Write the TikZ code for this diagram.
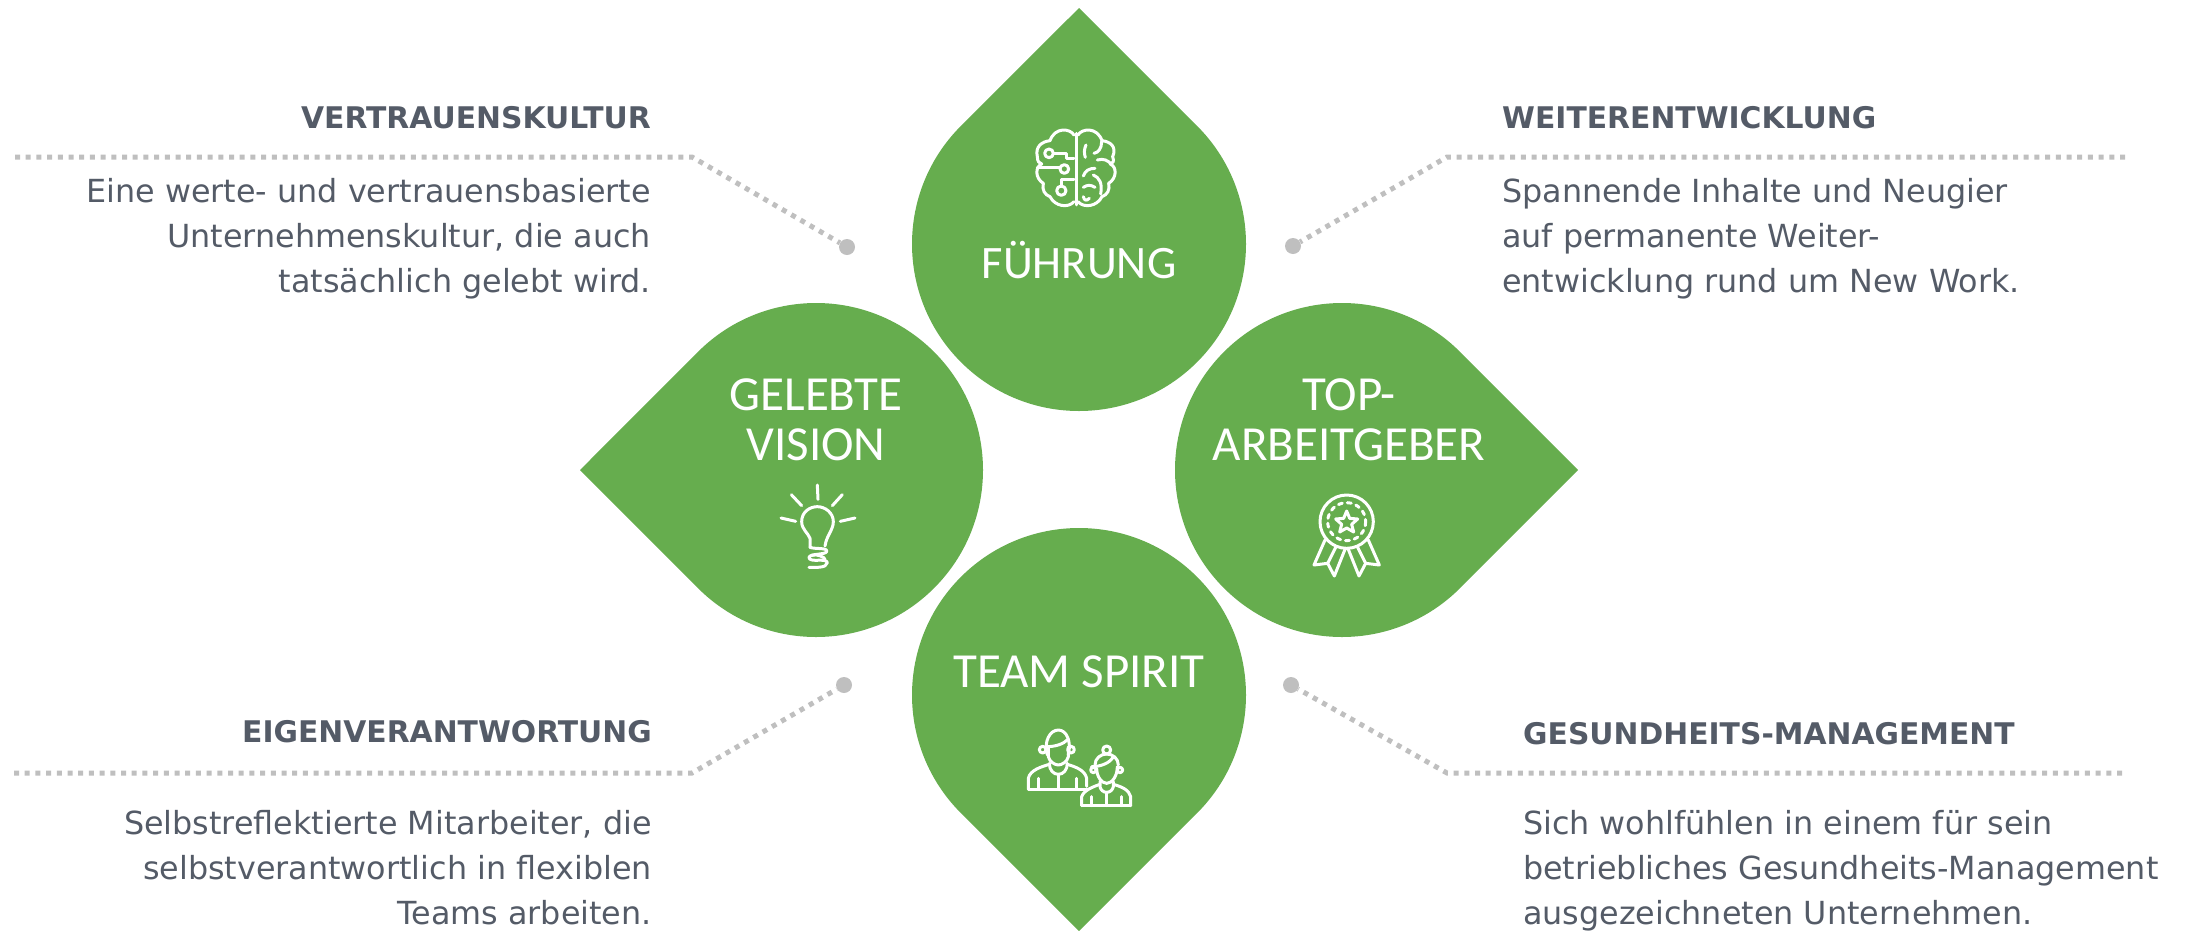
\documentclass[tikz,border=0pt]{standalone}
\usepackage{fontspec}
\setmainfont{DejaVu Sans}
\newfontfamily\shapefont{Carlito}
\definecolor{leaf}{HTML}{66AD4E}
\definecolor{slate}{HTML}{545B67}
\definecolor{dotgrey}{HTML}{BFBFBF}
\newcommand{\dropat}[3]{\fill[leaf,shift={(#1,#2)}] (#3:236) -- ({#3+45}:167) arc[start angle={#3+45},end angle={#3+315},radius=167] -- cycle;}
\tikzset{
  heading/.style={text=slate,font=\fontsize{29.8}{32}\selectfont\bfseries,inner sep=0pt},
  bodyleft/.style={text=slate,font=\fontsize{31.8}{45}\selectfont,inner sep=0pt,align=right,anchor=base east},
  bodyright/.style={text=slate,font=\fontsize{31.8}{45}\selectfont,inner sep=0pt,align=left,anchor=base west},
  shapelabel/.style={text=white,font=\shapefont\fontsize{49}{50}\selectfont,inner sep=0pt,anchor=base},
  leader/.style={dotgrey,line width=5pt,dash pattern=on 5pt off 5.7pt},
  enddot/.style={circle,fill=dotgrey,minimum size=16pt,inner sep=0pt},
  icon/.style={white,line width=3pt,line cap=round,line join=round,x=0.3333pt,y=-0.3333pt},
}
\begin{document}
\begin{tikzpicture}[x=1pt,y=-1pt]
\useasboundingbox (0,0) rectangle (2188,930);
\dropat{1079}{244}{-90}
\dropat{816}{470}{180}
\dropat{1342}{470}{0}
\dropat{1079}{695}{90}

\node[shapelabel,font=\shapefont\fontsize{46.5}{50}\selectfont] (fuehrung) at (1079,278) {FÜHRUNG};
\node[shapelabel] (vision1) at (816,410) {GELEBTE};
\node[shapelabel] (vision2) at (816,460) {VISION};
\node[shapelabel] (top1) at (1349,410) {TOP-};
\node[shapelabel] (top2) at (1349,460) {ARBEITGEBER};
\node[shapelabel] (team) at (1079,687) {TEAM SPIRIT};

% leaders
\node[enddot] (d1) at (847,247) {};
\node[enddot] (d2) at (1293,246) {};
\node[enddot] (d3) at (844,685) {};
\node[enddot] (d4) at (1291,685) {};
\coordinate (k1) at (692,157); \coordinate (s1) at (15,157);
\coordinate (k2) at (1447,157); \coordinate (s2) at (2125,157);
\coordinate (k3) at (692,773); \coordinate (s3) at (14,773);
\coordinate (k4) at (1447,773); \coordinate (s4) at (2122,773);
\draw[leader] (s1) -- (k1) -- (d1);
\draw[leader] (s2) -- (k2) -- (d2);
\draw[leader] (s3) -- (k3) -- (d3);
\draw[leader] (s4) -- (k4) -- (d4);

% text
\node[heading,anchor=base east] (h1) at (651,128) {VERTRAUENSKULTUR};
\node[bodyleft] (b1) at (651,292) {Eine werte- und vertrauensbasierte\\Unternehmenskultur, die auch\\tatsächlich gelebt wird.};
\node[heading,anchor=base west] (h2) at (1502,128) {WEITERENTWICKLUNG};
\node[bodyright] (b2) at (1502,292) {Spannende Inhalte und Neugier\\auf permanente Weiter-\\entwicklung rund um New Work.};
\node[heading,anchor=base east] (h3) at (652,742) {EIGENVERANTWORTUNG};
\node[bodyleft] (b3) at (652,924) {Selbstreflektierte Mitarbeiter, die\\selbstverantwortlich in flexiblen\\Teams arbeiten.};
\node[heading,anchor=base west] (h4) at (1523,744) {GESUNDHEITS-MANAGEMENT};
\node[bodyright] (b4) at (1523,924) {Sich wohlfühlen in einem für sein\\betriebliches Gesundheits-Management\\ausgezeichneten Unternehmen.};

% brain
\begin{scope}[shift={(1000,100)},icon]
\draw (228,100) -- (228,315);
\draw (222,105) .. controls (210,85) and (165,80) .. (150,122) .. controls (125,125) and (105,140) .. (112,170) .. controls (112,185) and (118,190) .. (125,192) .. controls (105,200) and (105,235) .. (130,250) .. controls (125,270) and (135,285) .. (150,290) .. controls (165,320) and (205,325) .. (222,305);
\draw (234,105) .. controls (246,85) and (291,80) .. (306,122) .. controls (331,125) and (351,140) .. (338,170) .. controls (344,185) and (338,190) .. (331,192) .. controls (351,200) and (351,235) .. (326,250) .. controls (331,270) and (321,285) .. (306,290) .. controls (291,320) and (251,325) .. (234,305);
\draw (147,160) circle[radius=13];
\draw (160,160) -- (200,160) -- (200,175) -- (222,175);
\draw (112,202) -- (180,202);
\draw (193,207) circle[radius=13];
\draw (184,272) circle[radius=14];
\draw (184,258) -- (184,240) -- (222,240);
\draw (258,135) .. controls (252,148) and (252,160) .. (256,172);
\draw (282,160) .. controls (295,158) and (305,145) .. (305,125);
\draw (292,180) .. controls (310,175) and (325,180) .. (335,195);
\draw (250,228) .. controls (255,212) and (268,205) .. (285,205);
\draw (280,225) .. controls (298,232) and (308,250) .. (302,282);
\draw (250,262) .. controls (262,254) and (272,254) .. (285,262);
\draw (250,290) .. controls (253,303) and (260,303) .. (268,295);
\end{scope}

% bulb
\begin{scope}[shift={(760,470)},icon]
\draw (172,45) -- (174,88);
\draw (94,74) -- (125,107);
\draw (247,74) -- (217,107);
\draw (63,144) -- (107,154);
\draw (285,144) -- (241,154);
\draw (150,232) -- (150,205) .. controls (145,190) and (125,178) .. (125,155) .. controls (125,125) and (150,110) .. (172,110) .. controls (195,110) and (220,128) .. (220,155) .. controls (220,180) and (200,195) .. (195,228);
\draw (150,232) .. controls (165,238) and (205,232) .. (200,245) .. controls (195,255) and (150,250) .. (147,262) .. controls (147,280) and (200,262) .. (202,278) .. controls (200,295) and (165,292) .. (147,292);
\draw (155,256) .. controls (170,250) and (195,262) .. (195,268);
\end{scope}

% badge
\begin{scope}[shift={(1290,480)},icon]
\draw (170,125) circle[radius=80];
\draw[dash pattern=on 4pt off 5pt] (170,125) circle[radius=57];
\draw[line join=round] (170,93) -- (179,115) -- (203,117) -- (185,133) -- (191,156) -- (170,144) -- (149,156) -- (155,133) -- (137,117) -- (161,115) -- cycle;
\draw (105,180) -- (72,255) -- (113,250) -- (133,288) -- (165,208);
\draw (113,250) -- (138,200);
\draw (235,180) -- (268,255) -- (227,250) -- (207,288) -- (175,208);
\draw (227,250) -- (202,200);
\end{scope}

% team
\begin{scope}[shift={(1010,715)},icon]
\draw (112,120) .. controls (100,80) and (120,45) .. (145,45) .. controls (170,45) and (185,80) .. (175,120);
\draw (110,95) .. controls (135,95) and (160,88) .. (175,72);
\draw (115,95) -- (115,125) .. controls (118,140) and (135,150) .. (145,150) .. controls (155,150) and (172,140) .. (175,125) -- (175,95);
\draw (98,104) circle[radius=10];
\draw (183,104) circle[radius=10];
\draw (118,145) .. controls (118,165) and (130,178) .. (145,178) .. controls (160,178) and (172,165) .. (172,145);
\draw (55,222) -- (55,190) .. controls (60,165) and (95,155) .. (118,148);
\draw (172,148) .. controls (195,155) and (225,165) .. (230,190) -- (230,214);
\draw (55,222) -- (232,222);
\draw (85,190) -- (85,222);
\draw (145,178) -- (145,222);
\draw (200,190) -- (200,222);
\draw (290,105) circle[radius=12];
\draw (255,150) .. controls (255,130) and (272,117) .. (290,117) .. controls (308,117) and (325,130) .. (325,150);
\draw (245,155) .. controls (270,155) and (300,145) .. (310,125);
\draw (260,160) .. controls (260,185) and (275,205) .. (290,205) .. controls (305,205) and (322,185) .. (322,155);
\draw (250,165) circle[radius=8];
\draw (330,165) circle[radius=8];
\draw (270,200) -- (270,215) .. controls (272,225) and (280,232) .. (290,232) .. controls (300,232) and (308,225) .. (310,215) -- (310,200);
\draw (215,272) -- (215,245) .. controls (222,225) and (250,215) .. (270,208);
\draw (310,208) .. controls (335,215) and (358,225) .. (362,245) -- (362,272);
\draw (215,272) -- (362,272);
\draw (245,245) -- (245,272);
\draw (290,232) -- (290,272);
\draw (333,245) -- (333,272);
\end{scope}
\end{tikzpicture}
\end{document}
